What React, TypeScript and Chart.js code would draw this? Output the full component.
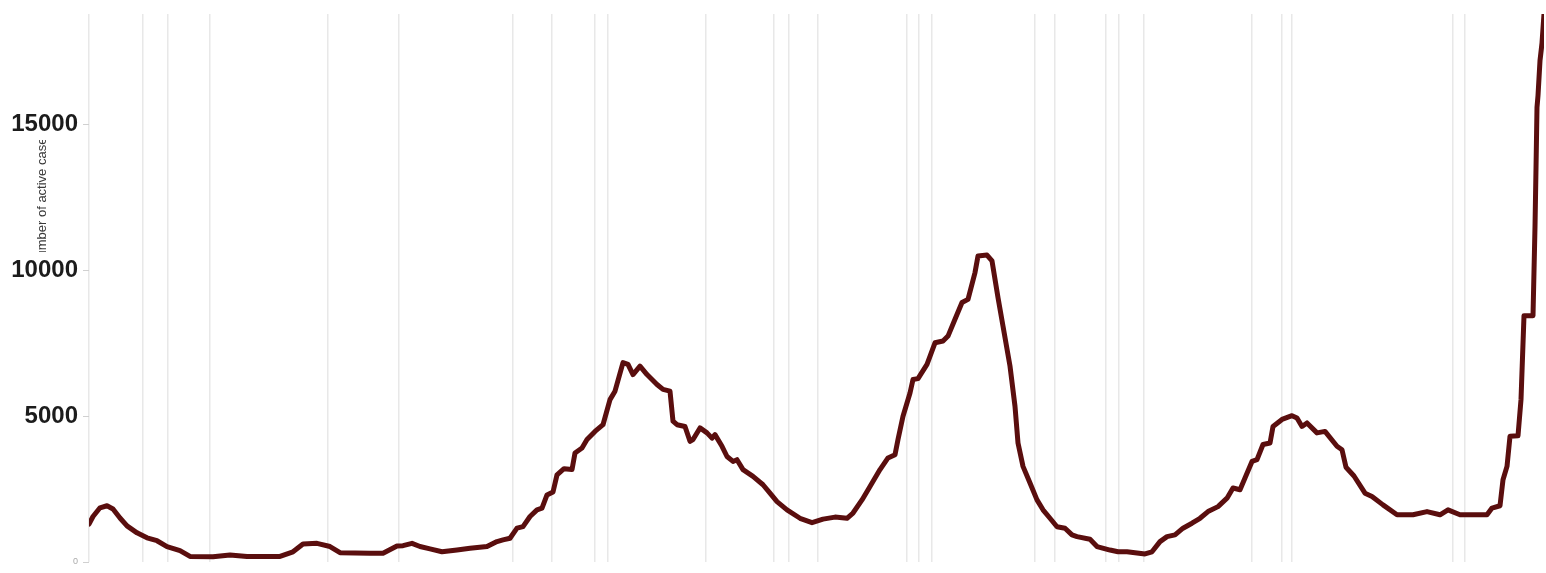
import React, { useEffect, useRef } from "react";
import { Chart, registerables } from "chart.js";

Chart.register(...registerables);

// Day index since start of series
const days: number[] = [
  0, 2, 5.5, 9, 12, 15.5, 19, 24, 29, 34, 39, 45.5, 50.5, 62, 70.5, 79, 95.5, 102, 107, 114,
  120.5, 125.5, 140.5, 147, 154, 157, 161.5, 165.5, 170.5, 176.5, 184, 190.5, 199, 204, 207, 210.5,
  214, 217, 220.5, 224, 226.5, 229, 232, 234, 237.5, 241.5, 243, 246.5, 249, 253, 257, 260.5,
  263, 267, 269.5, 272, 275.5, 279, 284, 287, 290.5, 292, 294, 298, 300.5, 302, 305.5, 309,
  311.5, 313, 316.5, 319, 322, 324, 327, 332, 337, 340.5, 344, 349, 355.5, 361.5, 367, 373,
  379, 382, 386.5, 390.5, 395.5, 399.5, 403, 404.5, 407, 410.5, 412, 414.5, 419, 423, 427,
  429.5, 433, 436.5, 439.5, 443, 444.5, 449, 451.5, 454.5, 457, 460.5, 463, 464.5, 467, 470.5,
  474, 477, 480.5, 484, 488, 491.5, 494, 500.5, 504, 510.5, 514.5, 519, 528, 531.5, 535.5, 539,
  543, 547, 551.5, 555.5, 559.5, 564.5, 569, 572, 575.5, 578, 581.5, 584, 587, 590.5, 592,
  596.5, 601.5, 604, 606.5, 609, 614, 618, 624, 626.5, 628.5, 632.5, 638, 641.5, 647, 654,
  662, 669, 675.5, 679.5, 685.5, 699, 701.5, 705.5, 707, 709, 710.5, 714.5, 716, 717.5, 722,
  723, 723.5, 724, 724.5, 725.5, 726.5, 727.5,
];

// Number of active cases
const activeCases: number[] = [
  1300, 1560, 1860, 1930, 1820, 1510, 1240, 1000, 830, 730, 530, 390, 190, 180, 240, 190, 190, 350, 620, 640,
  530, 320, 300, 300, 550, 560, 640, 530, 450, 350, 410, 470, 530, 700, 760, 815,
  1160, 1214, 1560, 1790, 1850, 2300, 2400, 2990, 3200, 3170, 3740, 3910, 4200, 4480, 4710, 5570,
  5860, 6840, 6780, 6430, 6720, 6430, 6090, 5920, 5860, 4830, 4710, 4650, 4140, 4200, 4600, 4430,
  4250, 4370, 3970, 3620, 3450, 3510, 3170, 2940, 2650, 2360, 2070, 1790, 1500, 1350, 1470, 1540,
  1500, 1680, 2130, 2590, 3170, 3570, 3680, 4200, 5000, 5800, 6260, 6290, 6780, 7520, 7580,
  7750, 8330, 8900, 9010, 9930, 10500, 10530, 10330, 9070, 8090, 6720, 5340, 4080, 3280, 2710,
  2130, 1790, 1500, 1210, 1160, 930, 870, 780, 530, 410, 350, 350, 275, 350, 700, 870,
  930, 1160, 1330, 1500, 1730, 1900, 2190, 2540, 2480, 2880, 3450, 3510, 4030, 4080, 4650,
  4890, 5020, 4940, 4650, 4770, 4430, 4480, 3970, 3850, 3250, 2950, 2360, 2250, 1960, 1620,
  1620, 1730, 1620, 1790, 1620, 1620, 1850, 1930, 2820, 3280, 4310, 4330, 5570, 8450, 8450,
  11500, 13500, 15600, 16000, 17200, 17800, 18800,
];

// Days on which vertical grid lines are drawn
const gridDays: number[] = [
  0, 27, 39.5, 60.5, 119.5, 155, 212, 231.5, 253, 259.5, 308.5, 342.5, 350, 364.5, 409, 415,
  421.5, 473, 483, 508.5, 515, 527.5, 581.5, 596.5, 601.5, 682, 688,
];

const yTickValues: number[] = [0, 5000, 10000, 15000];
const yTitle = "Number of active cases";

const FONT = "'Liberation Sans', Arial, Helvetica, sans-serif";

export default function App() {
  const canvasRef = useRef<HTMLCanvasElement | null>(null);

  useEffect(() => {
    if (!canvasRef.current) return;
    const points = days.map((d, i) => ({ x: d, y: activeCases[i] }));

    const titlePlugin = {
      id: "yTitleClip",
      afterDraw(chart: any) {
        const ctx = chart.ctx as CanvasRenderingContext2D;
        ctx.save();
        ctx.beginPath();
        ctx.rect(30, 140, 24, 112);
        ctx.clip();
        ctx.translate(42, 199);
        ctx.rotate(-Math.PI / 2);
        ctx.font = `13px ${FONT}`;
        ctx.fillStyle = "#3a3a3a";
        ctx.textAlign = "center";
        ctx.textBaseline = "middle";
        ctx.fillText(yTitle, 0, 0);
        ctx.restore();
      },
    };

    const chart = new Chart(canvasRef.current, {
      type: "line",
      data: {
        datasets: [
          {
            data: points,
            borderColor: "#5a0e0e",
            borderWidth: 5,
            pointRadius: 0,
            tension: 0,
            fill: false,
            borderJoinStyle: "round",
            borderCapStyle: "round",
          },
        ],
      },
      options: {
        animation: false,
        responsive: true,
        maintainAspectRatio: false,
        layout: { padding: { top: 14, right: 2, bottom: 11, left: 0 } },
        plugins: {
          legend: { display: false },
          tooltip: { enabled: false },
          title: { display: false },
        },
        scales: {
          x: {
            type: "linear",
            min: 0,
            max: 727.5,
            afterBuildTicks: (axis: any) => {
              axis.ticks = gridDays.map((v) => ({ value: v }));
            },
            afterFit: (scale: any) => {
              scale.height = 0;
              scale.paddingLeft = 0;
              scale.paddingRight = 0;
            },
            ticks: { display: false },
            grid: {
              color: "#e8e8e8",
              lineWidth: 1.5,
              drawTicks: false,
            },
            border: { display: false },
          },
          y: {
            type: "linear",
            min: 0,
            max: 18800,
            afterBuildTicks: (axis: any) => {
              axis.ticks = yTickValues.map((v) => ({ value: v }));
            },
            afterFit: (scale: any) => {
              scale.width = 89;
              scale.paddingTop = 0;
              scale.paddingBottom = 0;
            },
            ticks: {
              padding: 5,
              color: (ctx: any) => (ctx.tick && ctx.tick.value === 0 ? "#aaaaaa" : "#1c1c1c"),
              font: (ctx: any) =>
                ctx.tick && ctx.tick.value === 0
                  ? { family: FONT, size: 9, weight: "normal" }
                  : { family: FONT, size: 24, weight: "bold" },
              callback: (v: any) => String(v),
            },
            grid: {
              drawOnChartArea: false,
              drawTicks: true,
              tickLength: 6,
              tickColor: "#d0d0d0",
            },
            border: { display: false },
          },
        },
      },
      plugins: [titlePlugin],
    } as any);

    return () => chart.destroy();
  }, []);

  return (
    <div
      style={{
        position: "fixed",
        left: 0,
        top: 0,
        width: 1546,
        height: 573,
        background: "#ffffff",
      }}
    >
      <canvas ref={canvasRef} />
    </div>
  );
}
